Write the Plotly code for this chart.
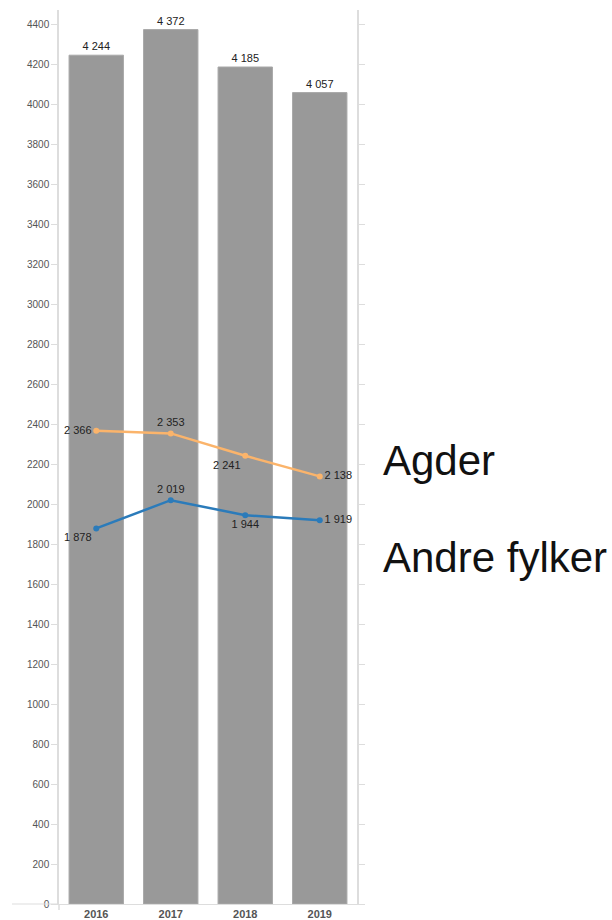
import plotly.graph_objects as go

years = ["2016", "2017", "2018", "2019"]
total = [4244, 4372, 4185, 4057]
agder = [2366, 2353, 2241, 2138]
andre = [1878, 2019, 1944, 1919]
yticks = list(range(0, 4401, 200))

def fmt(v):
    return f"{v:,}".replace(",", " ")

FONT = "Liberation Sans, Arial, Helvetica, sans-serif"
W, H = 612, 920
L, R, T, B = 59, 255, 10, 16

fig = go.Figure()
fig.add_trace(go.Bar(
    x=years, y=total, marker=dict(color="#999999", line=dict(color="#a8a8a8", width=1)),
    text=[fmt(v) for v in total], textposition="outside", cliponaxis=False,
    textfont=dict(family=FONT, size=11, color="#222222"), showlegend=False,
))
fig.add_trace(go.Scatter(
    x=years, y=agder, mode="lines+markers+text",
    line=dict(color="#fbb46b", width=2.5), marker=dict(size=6, color="#fbb46b"),
    text=[fmt(v) for v in agder],
    textposition=["middle left", "top center", "bottom left", "middle right"],
    textfont=dict(family=FONT, size=11, color="#222222"), showlegend=False, cliponaxis=False,
))
fig.add_trace(go.Scatter(
    x=years, y=andre, mode="lines+markers+text",
    line=dict(color="#2b7bba", width=2.5), marker=dict(size=6, color="#2b7bba"),
    text=[fmt(v) for v in andre],
    textposition=["bottom left", "top center", "bottom center", "middle right"],
    textfont=dict(family=FONT, size=11, color="#222222"), showlegend=False, cliponaxis=False,
))
fig.add_trace(go.Scatter(x=[years[0]], y=[0], yaxis="y2", mode="markers",
                         marker=dict(opacity=0), showlegend=False, hoverinfo="skip"))

fig.update_layout(
    width=W, height=H,
    margin=dict(l=L, r=R, t=T, b=B, autoexpand=False),
    plot_bgcolor="white", paper_bgcolor="white",
    bargap=0.27,
    font=dict(family=FONT),
    xaxis=dict(showgrid=False, showline=True, linecolor="#dddddd", linewidth=1,
               ticks="", tickfont=dict(family=FONT, size=11, color="#555555", weight="bold")),
    yaxis=dict(range=[0, 4470], tickvals=yticks, ticktext=[str(v) for v in yticks],
               showgrid=False, zeroline=False, showline=True, linecolor="#dddddd", linewidth=1.5,
               ticks="outside", ticklen=6, tickcolor="#dddddd",
               tickfont=dict(family=FONT, size=10, color="#555555")),
    yaxis2=dict(range=[0, 4470], overlaying="y", side="right", tickvals=yticks,
                showticklabels=False, showgrid=False, zeroline=False, showline=True,
                linecolor="#dddddd", linewidth=1.5, ticks="outside", ticklen=6, tickcolor="#dddddd"),
)

pw = W - L - R
ph = H - T - B
# x-axis line extending to the left of the plot
fig.add_shape(type="line", xref="paper", yref="paper",
              x0=(12 - L) / pw, x1=0, y0=0, y1=0,
              line=dict(color="#dddddd", width=1))
# y-axis line extending slightly below the x-axis
fig.add_shape(type="line", xref="paper", yref="paper",
              x0=0, x1=0, y0=-6 / ph, y1=0,
              line=dict(color="#dddddd", width=1.5))

for label, ypx in [("Agder", 460), ("Andre fylker", 557)]:
    fig.add_annotation(
        x=(381 - L) / pw, xref="paper", xanchor="left",
        y=1 - (ypx - T) / ph, yref="paper", yanchor="middle",
        text=label, showarrow=False,
        font=dict(family=FONT, size=42, color="#111111"),
    )

fig.write_html("out.html", config={"displayModeBar": False},
               post_script="document.body.style.margin='0';")
